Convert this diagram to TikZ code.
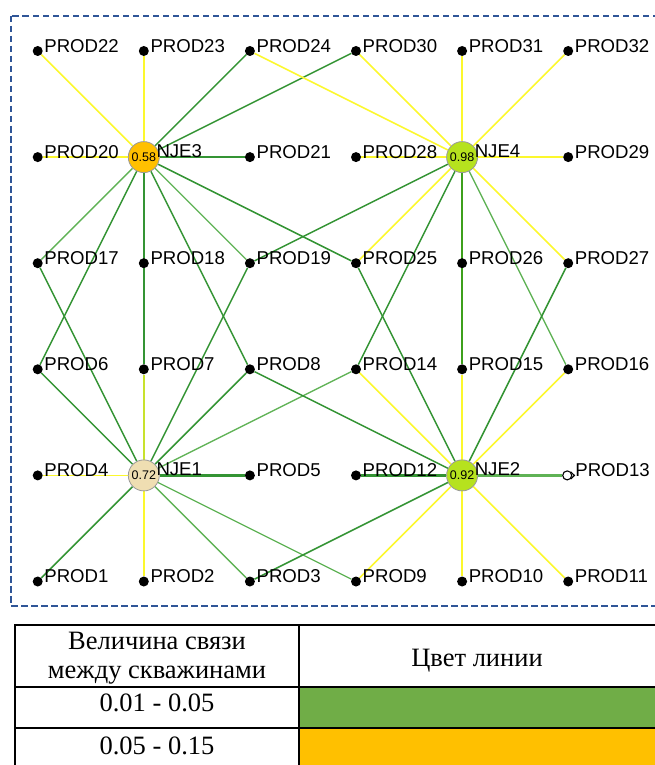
\documentclass[tikz,border=0pt]{standalone}
\usepackage{fontspec}
\setmainfont{Liberation Serif}
\newfontfamily\arialf{Liberation Sans}
\usetikzlibrary{backgrounds}
\definecolor{bordercol}{RGB}{47,85,151}
\definecolor{lineyel}{RGB}{252,248,45}
\definecolor{linegrn}{RGB}{52,148,52}
\definecolor{linegrnl}{RGB}{95,178,85}
\definecolor{linegrnv}{RGB}{62,160,28}
\definecolor{lineyg}{RGB}{200,226,45}
\definecolor{njeorange}{RGB}{255,192,0}
\definecolor{njelime}{RGB}{182,226,30}
\definecolor{njebeige}{RGB}{239,222,178}
\definecolor{tabgreen}{HTML}{70AD47}
\definecolor{taborange}{HTML}{FFC000}
\begin{document}
\begin{tikzpicture}[x=1pt,y=-1pt,
  dot/.style={circle,fill=black,inner sep=0pt,minimum size=10pt},
  odot/.style={circle,draw=black,line width=1.1pt,fill=white,inner sep=0pt,minimum size=9pt},
  nje/.style={circle,draw=gray!80,line width=0.8pt,inner sep=0pt,minimum size=31pt,
    font=\arialf\fontsize{12.5}{12.5}\selectfont},
  lab/.style={anchor=base west,inner sep=0pt,font=\arialf\fontsize{18.6}{20}\selectfont},
  yl/.style={draw=lineyel,line width=1.5pt},
  gr/.style={draw=linegrn,line width=1.5pt},
  grl/.style={draw=linegrnl,line width=1.3pt},
  grt/.style={draw=linegrn,line width=2.2pt},
  grv/.style={draw=linegrnv,line width=2.2pt},
  yg/.style={draw=lineyg,line width=2pt},
  tabtxt/.style={inner sep=0pt,align=center,font=\fontsize{26.5}{28.5}\selectfont},
  tabline/.style={draw=black,line width=2pt}
]
\useasboundingbox (0,0) rectangle (655,765);
% frame and legend table (clipped at the right edge)
\begin{scope}
\clip (0,0) rectangle (655,765);
\draw[bordercol,line width=1.5pt,dash pattern=on 6.5pt off 3.5pt] (11,16) rectangle (720,606);
\fill[tabgreen] (299,687) rectangle (720,728);
\fill[taborange] (299,728) rectangle (720,780);
\draw[tabline] (15,780) -- (15,625) -- (720,625);
\draw[tabline] (15,687) -- (720,687);
\draw[tabline] (15,728) -- (720,728);
\draw[tabline] (299,625) -- (299,780);
\end{scope}
\node[tabtxt] (th1) at (157,658) {Величина связи\\между скважинами};
\node[tabtxt,anchor=base] (th2) at (477,666.5) {Цвет линии};
\node[tabtxt,anchor=base] (tr1) at (157,711.5) {0.01 - 0.05};
\node[tabtxt,anchor=base] (tr2) at (157,754) {0.05 - 0.15};
% wells
\foreach \n/\c/\r in {22/0/0,23/1/0,24/2/0,30/3/0,31/4/0,32/5/0,
  20/0/1,21/2/1,28/3/1,29/5/1,
  17/0/2,18/1/2,19/2/2,25/3/2,26/4/2,27/5/2,
  6/0/3,7/1/3,8/2/3,14/3/3,15/4/3,16/5/3,
  4/0/4,5/2/4,12/3/4,
  1/0/5,2/1/5,3/2/5,9/3/5,10/4/5,11/5/5}{
  \node[dot] (p\n) at ({37.7+106.1*\c},{51+106.1*\r}) {};
  \node[lab] (t\n) at ([xshift=6.5pt,yshift=-1.2pt]p\n.center) {PROD\n};
}
\node[odot] (p13) at ({37.7+106.1*5-1},{51+106.1*4}) {};
\draw[black,line width=1.1pt] (p13.north east) -- ++(4,4);
\draw[black,line width=1.1pt] (p13.south east) -- ++(4,-4);
\node[lab] (t13) at ([xshift=8pt,yshift=-1.2pt]p13.center) {PROD13};
% injectors
\node[nje,fill=njeorange] (n3) at ({37.7+106.1},{51+106.1}) {0.58};
\node[nje,fill=njelime] (n4) at ({37.7+106.1*4},{51+106.1}) {0.98};
\node[nje,fill=njebeige] (n1) at ({37.7+106.1},{51+106.1*4}) {0.72};
\node[nje,fill=njelime] (n2) at ({37.7+106.1*4},{51+106.1*4}) {0.92};
\foreach \k in {1,2,3,4}{
  \node[lab] (m\k) at ([xshift=12.5pt,yshift=-0.5pt]n\k.center) {NJE\k};
}
% connections
\begin{scope}[on background layer]
% NJE3
\draw[yl] (n3) -- (p22);
\draw[yl] (n3) -- (p23);
\draw[yl] (n3) -- (p20);
\draw[gr] (n3) -- (p24);
\draw[gr] (n3) -- (p30);
\draw[grt] (n3) -- (p21);
\draw[grl] (n3) -- (p17);
\draw[gr] (n3) -- (p6);
\draw[grt] (n3) -- (p7);
\draw[grl] (n3) -- (p19);
\draw[gr] (n3) -- (p8);
\draw[gr] (n3) -- (p25);
% NJE4
\draw[yl] (n4) -- (p30);
\draw[yl] (n4) -- (p31);
\draw[yl] (n4) -- (p32);
\draw[yl] (n4) -- (p28);
\draw[yl] (n4) -- (p29);
\draw[yl] (n4) -- (p24);
\draw[yl] (n4) -- (p25);
\draw[yl] (n4) -- (p27);
\draw[grv] (n4) -- (p15);
\draw[gr] (n4) -- (p19);
\draw[gr] (n4) -- (p14);
\draw[grl] (n4) -- (p16);
% NJE1
\draw[yl] (n1) -- (p4);
\draw[yl] (n1) -- (p2);
\draw[yg] (n1) -- (p7);
\draw[gr] (n1) -- (p17);
\draw[gr] (n1) -- (p6);
\draw[gr] (n1) -- (p1);
\draw[grl] (n1) -- (p3);
\draw[grt] (n1) -- (p5);
\draw[gr] (n1) -- (p8);
\draw[gr] (n1) -- (p19);
\draw[grl] (n1) -- (p14);
\draw[grl] (n1) -- (p9);
% NJE2
\draw[yl] (n2) -- (p14);
\draw[yl] (n2) -- (p15);
\draw[yl] (n2) -- (p16);
\draw[yl] (n2) -- (p9);
\draw[yl] (n2) -- (p10);
\draw[yl] (n2) -- (p11);
\draw[grt] (n2) -- (p12);
\draw[grt,draw=linegrnl] (n2) -- (p13);
\draw[gr] (n2) -- (p25);
\draw[gr] (n2) -- (p27);
\draw[gr] (n2) -- (p8);
\draw[gr] (n2) -- (p3);
\end{scope}
\end{tikzpicture}
\end{document}
